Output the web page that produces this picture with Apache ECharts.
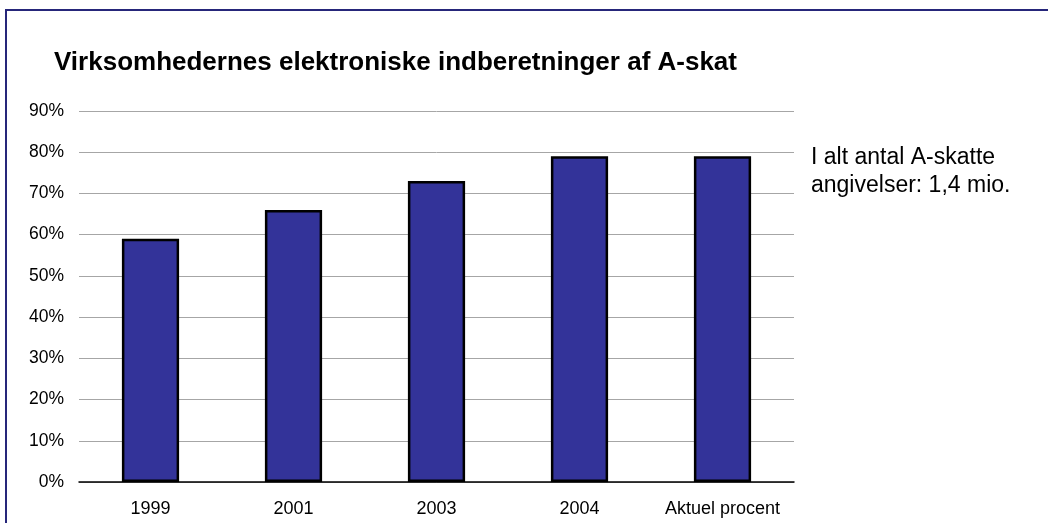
<!DOCTYPE html>
<html>
<head>
<meta charset="utf-8">
<script src="https://cdn.jsdelivr.net/npm/echarts@6/dist/echarts.min.js"></script>
<style>
html,body{margin:0;padding:0;background:#fff;}
#chart{width:1048px;height:523px;}
</style>
</head>
<body>
<div id="chart"></div>
<script>
var categories = ['1999', '2001', '2003', '2004', 'Aktuel procent'];
var values = [59, 66, 73, 79, 79];
var titleText = 'Virksomhedernes elektroniske indberetninger af A-skat';
var noteLines = ['I alt antal A-skatte', 'angivelser: 1,4 mio.'];

var chart = echarts.init(document.getElementById('chart'));
chart.setOption({
  animation: false,
  backgroundColor: '#fff',
  title: {
    text: titleText,
    left: 49,
    top: 44,
    textStyle: {fontFamily: 'Liberation Sans, Arial', fontSize: 26, lineHeight: 28, fontWeight: 'bold', color: '#000'}
  },
  graphic: [
    {type: 'rect', shape: {x: 6, y: 10, width: 1100, height: 600}, style: {fill: 'none', stroke: '#26267a', lineWidth: 2}, z: 100},
    {type: 'text', left: 811, top: 144, style: {text: noteLines.join('\n'), fontFamily: 'Liberation Sans, Arial', fontSize: 23, lineHeight: 28, fill: '#000'}}
  ],
  grid: {left: 79, right: 254, top: 111, bottom: 41, containLabel: false},
  xAxis: {
    type: 'category',
    data: categories,
    axisLine: {lineStyle: {color: '#000', width: 1.5}},
    axisTick: {show: false},
    axisLabel: {interval: 0, fontFamily: 'Liberation Sans, Arial', fontSize: 18, color: '#000', margin: 18}
  },
  yAxis: {
    type: 'value',
    min: 0, max: 90, interval: 10,
    axisLine: {show: false},
    axisTick: {show: false},
    axisLabel: {formatter: '{value}%', fontFamily: 'Liberation Sans, Arial', fontSize: 17.5, color: '#000', margin: 15},
    splitLine: {lineStyle: {color: '#a6a6a6', width: 1}}
  },
  series: [{
    type: 'bar',
    data: values,
    barWidth: '40%',
    itemStyle: {color: '#333399', borderColor: '#000', borderWidth: 2.5}
  }]
});
</script>
</body>
</html>
